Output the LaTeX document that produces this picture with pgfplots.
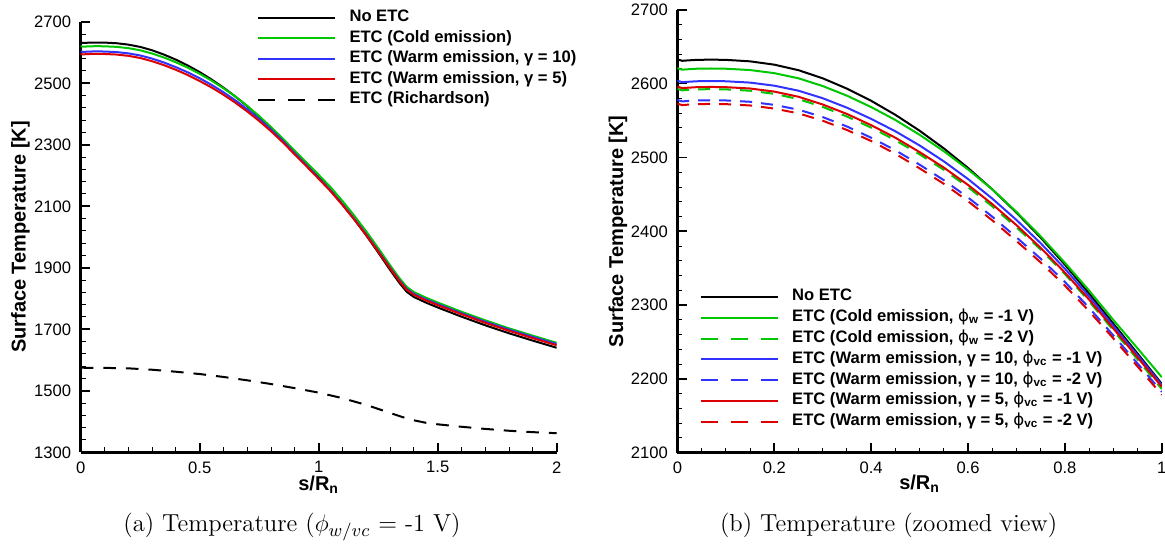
\documentclass[border=0pt]{standalone}
\usepackage{fontspec}
\usepackage{pgfplots}
\pgfplotsset{compat=1.18}
\usepackage{pgfplotstable}
\newfontfamily\hel{Liberation Sans}
\newfontfamily\dvs{DejaVu Sans}
\newcommand{\phis}{{\dvs\mdseries ϕ}}
\definecolor{cgreen}{RGB}{0,200,0}
\definecolor{cblue}{RGB}{50,50,255}
\definecolor{cred}{RGB}{220,0,0}

% left panel: s, no ETC, cold, warm10, warm5
\pgfplotstableread{
s     blk     grn     blu     red
0     2633    2621    2604    2596
0.01  2631    2619    2602    2594
0.02  2631.5  2619.5  2602.5  2594.5
0.04  2632.3  2620.3  2603.3  2595.3
0.07  2632.6  2620.6  2603.6  2595.6
0.1   2632.3  2620.3  2603.3  2595.3
0.15  2630.3  2618.5  2601.5  2593.5
0.2   2625.8  2614.3  2597.3  2589.3
0.25  2618.3  2607.3  2590.5  2582.3
0.3   2607.3  2596.8  2580.3  2571.8
0.35  2593.3  2583.8  2567.5  2559
0.4   2576.8  2568.3  2552.3  2543.8
0.45  2557.8  2550.8  2535.5  2526.8
0.5   2536.3  2530.8  2516.3  2507.3
0.55  2512.3  2508.5  2494.8  2486.3
0.6   2485.8  2483.8  2470.8  2462.8
0.65  2456.8  2456.8  2444.3  2436.8
0.7   2425.3  2426.3  2415.3  2408.3
0.75  2391.3  2393.1  2383.8  2377.5
0.8   2354.8  2357.3  2349.3  2344
0.85  2315.8  2319.6  2311.7  2307.4
0.9   2274.8  2279.8  2271.8  2268.2
0.95  2234.3  2241.3  2232    2229
1.0   2193.3  2202.3  2191.8  2189.3
1.05  2152    2162    2151.2  2149
1.1   2106    2117    2106    2104
1.15  2057    2069    2058.5  2056.5
1.2   2005    2018    2008    2006
1.25  1950    1964    1955    1953
1.3   1893    1908    1900    1898
1.34  1850    1865.4  1858.2  1855.8
1.37  1822    1837.7  1831.1  1828.4
1.4   1805    1821    1815    1812
1.45  1787    1803    1797.3  1794.3
1.5   1771    1787    1781.5  1778.5
1.6   1741    1757    1752    1749
1.7   1713    1729    1724.3  1721
1.8   1687    1703    1698.5  1695
1.9   1663    1679    1674.8  1671
2.0   1640    1656    1652    1648
}\lefttab

\pgfplotstableread{
s    rich
0    1575
0.1  1574.5
0.2  1573
0.3  1568.5
0.4  1562
0.5  1554.5
0.6  1545
0.7  1534
0.8  1522
0.9  1508.5
1.0  1494
1.1  1476
1.2  1454
1.3  1428
1.35 1415
1.4  1404
1.45 1396
1.5  1391
1.6  1383
1.7  1376
1.8  1370
1.9  1365.5
2.0  1362
}\richtab

% right panel
\pgfplotstableread{
s     blk     grn     gd      blu     bd      red     rd
0     2633    2621    2593    2604    2578    2596    2573
0.01  2631    2619    2591    2602    2576    2594    2571
0.02  2631.5  2619.5  2591.5  2602.5  2576.5  2594.5  2571.5
0.04  2632.3  2620.3  2592.3  2603.3  2577.3  2595.3  2572.3
0.07  2632.6  2620.6  2592.6  2603.6  2577.6  2595.6  2572.6
0.1   2632.3  2620.3  2592.3  2603.3  2577.3  2595.3  2572.3
0.15  2630.3  2618.5  2590.5  2601.5  2575.5  2593.5  2570.5
0.2   2625.8  2614.3  2586.3  2597.3  2571.3  2589.3  2566.3
0.25  2618.3  2607.3  2579.1  2590.5  2564.8  2582.3  2559.8
0.3   2607.3  2596.8  2568.5  2580.3  2554.8  2571.8  2549.8
0.35  2593.3  2583.8  2555.5  2567.5  2542    2559    2537.3
0.4   2576.8  2568.3  2540.5  2552.3  2526.8  2543.8  2522.3
0.45  2557.8  2550.8  2523.4  2535.5  2509.8  2526.8  2505
0.5   2536.3  2530.8  2504.3  2516.3  2490.3  2507.3  2485.3
0.55  2512.3  2508.5  2483.3  2494.8  2469.3  2486.3  2464.3
0.6   2485.8  2483.8  2459.8  2470.8  2445.8  2462.8  2440.8
0.65  2456.8  2456.8  2433.8  2444.3  2419.8  2436.8  2414.8
0.7   2425.3  2426.3  2405.3  2415.3  2391.8  2408.3  2386.8
0.75  2391.3  2393.1  2375.3  2383.8  2362.8  2377.5  2357.8
0.8   2354.8  2357.3  2342    2349.3  2331.3  2344    2326.3
0.85  2315.8  2319.6  2305.2  2311.7  2296.3  2307.4  2291.8
0.9   2274.8  2279.8  2265.8  2271.8  2258.8  2268.2  2254.8
0.95  2234.3  2241.3  2226.3  2232    2220.8  2229    2216.8
1.0   2193.3  2202.3  2186.3  2191.8  2182.3  2189.3  2178.3
}\righttab

\pgfplotsset{
  myaxis/.style={
    scale only axis,
    axis x line=bottom, axis y line=left,
    axis line style={-, line width=1.3pt},
    tick align=inside,
    major tick length=4.7pt, minor tick length=2.4pt,
    major tick style={line width=0.8pt, black},
    minor tick style={line width=0.5pt, black},
    /pgf/number format/assume math mode=true,
    /pgf/number format/1000 sep={},
    tick label style={font=\hel\fontsize{8.3}{10}\selectfont},
    xticklabel style={yshift=-1.1pt},
    yticklabel style={xshift=-1.3pt},
    label style={font=\hel\bfseries\fontsize{10}{12}\selectfont},
    enlargelimits=false,
    legend style={draw=none, fill=none, inner sep=0pt, outer sep=0pt,
      font=\hel\bfseries\fontsize{8.3}{10}\selectfont,
      cells={anchor=west}, column sep=6.75pt,
      nodes={inner sep=0pt, text height=6pt, text depth=2pt}},
    legend image code/.code={\draw[#1] (0pt,0pt) -- (38.5pt,0pt);},
    every axis plot/.append style={line width=1pt},
  },
  dashleg/.style={legend image code/.code={\draw[##1,dash pattern=on 8.7pt off 6.3pt] (0pt,0pt) -- (38.5pt,0pt);}},
}

\begin{document}
\begin{tikzpicture}
\useasboundingbox (0,0) rectangle (582.5pt,272pt);

\begin{axis}[myaxis,
  at={(40.35pt,45.85pt)}, anchor=south west,
  width=238pt, height=215.25pt,
  xmin=0, xmax=2, ymin=1300, ymax=2700,
  xtick={0,0.5,1,1.5,2}, minor x tick num=4,
  ytick={1300,1500,1700,1900,2100,2300,2500,2700}, minor y tick num=4,
  xlabel={s/R\textsubscript{n}},
  ylabel={Surface Temperature [K]},
  xlabel style={at={(axis description cs:0.5,-0.0876)}, anchor=base},
  ylabel style={at={(axis description cs:-0.1267,0.5)}, anchor=center},
  legend style={at={(axis description cs:0.3704,1.0274)}, anchor=north west, row sep=2.25pt},
]
\addplot[black] table[x=s,y=blk] {\lefttab};
\addlegendentry{No ETC}
\addplot[cgreen] table[x=s,y=grn] {\lefttab};
\addlegendentry{ETC (Cold emission)}
\addplot[cblue] table[x=s,y=blu] {\lefttab};
\addlegendentry{ETC (Warm emission, γ = 10)}
\addplot[cred] table[x=s,y=red] {\lefttab};
\addlegendentry{ETC (Warm emission, γ = 5)}
\addplot[black, dash pattern=on 6.3pt off 5pt, dashleg] table[x=s,y=rich] {\richtab};
\addlegendentry{ETC (Richardson)}
\end{axis}

\begin{axis}[myaxis,
  at={(338.7pt,45.65pt)}, anchor=south west,
  width=242.2pt, height=221.4pt,
  xmin=0, xmax=1, ymin=2100, ymax=2700,
  xtick={0,0.2,0.4,0.6,0.8,1}, minor x tick num=3,
  ytick={2100,2200,2300,2400,2500,2600,2700}, minor y tick num=4,
  xlabel={s/R\textsubscript{n}},
  ylabel={Surface Temperature [K]},
  xlabel style={at={(axis description cs:0.5,-0.0842)}, anchor=base},
  ylabel style={at={(axis description cs:-0.1226,0.5)}, anchor=center},
  legend style={at={(axis description cs:0.046,0.3697)}, anchor=north west, row sep=2.4pt},
]
\addplot[black] table[x=s,y=blk] {\righttab};
\addlegendentry{No ETC}
\addplot[cgreen] table[x=s,y=grn] {\righttab};
\addlegendentry{ETC (Cold emission, \phis\textsubscript{w} = -1 V)}
\addplot[cgreen, dash pattern=on 6pt off 4.5pt, dashleg] table[x=s,y=gd] {\righttab};
\addlegendentry{ETC (Cold emission, \phis\textsubscript{w} = -2 V)}
\addplot[cblue] table[x=s,y=blu] {\righttab};
\addlegendentry{ETC (Warm emission, γ = 10, \phis\textsubscript{vc} = -1 V)}
\addplot[cblue, dash pattern=on 6pt off 4.5pt, dashleg] table[x=s,y=bd] {\righttab};
\addlegendentry{ETC (Warm emission, γ = 10, \phis\textsubscript{vc} = -2 V)}
\addplot[cred] table[x=s,y=red] {\righttab};
\addlegendentry{ETC (Warm emission, γ = 5, \phis\textsubscript{vc} = -1 V)}
\addplot[cred, dash pattern=on 6pt off 4.5pt, dashleg] table[x=s,y=rd] {\righttab};
\addlegendentry{ETC (Warm emission, γ = 5, \phis\textsubscript{vc} = -2 V)}
\end{axis}

\node[anchor=base, font=\fontsize{12.3}{14}\selectfont] at (146pt,6.15pt) {(a) Temperature ($\phi_{w/vc}$ = -1 V)};
\node[anchor=base, font=\fontsize{12.3}{14}\selectfont] at (444.3pt,6.15pt) {(b) Temperature (zoomed view)};
\end{tikzpicture}
\end{document}
